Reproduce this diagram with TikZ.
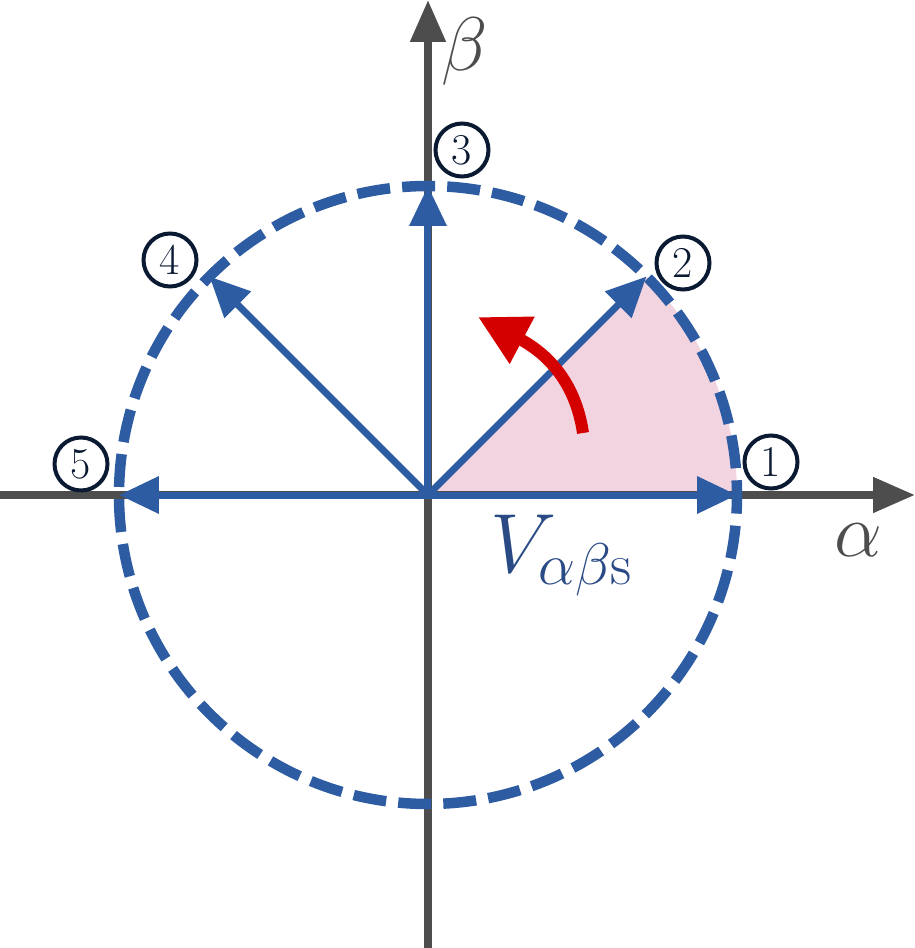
\RequirePackage{fix-cm}
\documentclass[tikz,border=0pt]{standalone}
\usetikzlibrary{arrows.meta}
\definecolor{axisgray}{HTML}{4D4D4D}
\definecolor{vecblue}{HTML}{2E5CA3}
\definecolor{labblue}{HTML}{2A4A85}
\definecolor{navy}{HTML}{0B1A33}
\definecolor{sectorpink}{HTML}{F2D4E1}
\definecolor{arrred}{HTML}{D40000}
\begin{document}
\begin{tikzpicture}[x=1pt,y=1pt,
  axisline/.style={draw=axisgray,line width=8pt,-{Triangle[length=42pt,width=34pt]}},
  vecline/.style={draw=vecblue,line width=7pt,-{Triangle[length=40pt,width=36pt]}},
  circlab/.style={circle,draw=navy,text=navy,line width=4pt,minimum size=53pt,inner sep=0pt,font=\fontsize{44}{44}\selectfont},
  biglab/.style={text=axisgray,font=\fontsize{76}{80}\selectfont,inner sep=0pt}]
\useasboundingbox (-428,-453) rectangle (487,495);
\coordinate (O) at (0,0);
\coordinate (v1) at (0:309);
\coordinate (v2) at (45:309);
\coordinate (v3) at (90:309);
\coordinate (v4) at (135:309);
\coordinate (v5) at (180:309);
\coordinate (axL) at (-428,0);
\coordinate (axR) at (487,0);
\coordinate (axB) at (0,-453);
\coordinate (axT) at (0,495);
% sector
\fill[sectorpink] (O) -- (v1) arc[start angle=0,end angle=45,radius=309] -- cycle;
% axes
\draw[axisline] (axL) -- (axR);
\draw[axisline] (axB) -- (axT);
% dashed circle
\draw[vecblue,line width=10.5pt,dash pattern=on 33pt off 12.15pt,dash phase=18.3pt] (O) circle[radius=309];
% vectors
\foreach \v in {v1,v2,v3,v4,v5} \draw[vecline] (O) -- (\v);
% red arrow
\coordinate (rs) at (155,62);
\coordinate (re) at (50,178);
\draw[arrred,line width=12pt,-{Triangle[length=50pt,width=50pt]}] (rs) .. controls (148,110) and (122,140) .. (re);
% labels
\node[circlab] (c1) at (343,33) {1};
\node[circlab] (c2) at (255,232) {2};
\node[circlab] (c3) at (34,345) {3};
\node[circlab] (c4) at (-258,235) {4};
\node[circlab] (c5) at (-347,31) {5};
\node[biglab] (lb) at (37,443) {$\beta$};
\node[biglab] (la) at (430,-45) {$\alpha$};
\node[text=labblue,font=\fontsize{84}{86}\selectfont,inner sep=0pt,anchor=base west] (lv) at (62,-77) {$V_{\alpha\beta\mathrm{s}}$};
\end{tikzpicture}
\end{document}
